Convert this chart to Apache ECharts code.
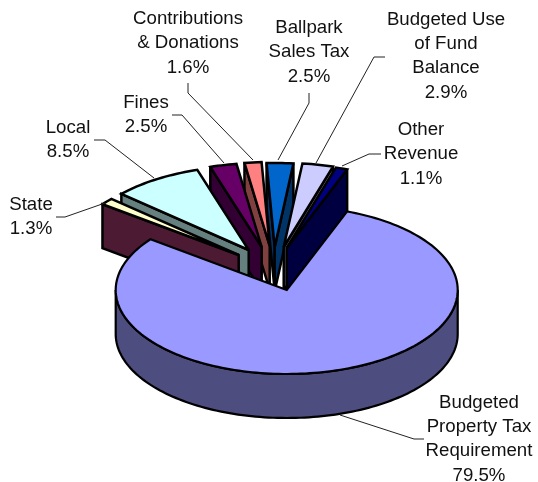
<!DOCTYPE html>
<html>
<head>
<meta charset="utf-8">
<style>html,body{margin:0;padding:0;background:#fff}#c{width:538px;height:482px}</style>
<script src="https://cdn.jsdelivr.net/npm/echarts@6/dist/echarts.min.js"></script>
</head>
<body>
<div id="c"></div>
<script>
// ---- data ----
const categories = [
  'Budgeted\nProperty Tax\nRequirement', 'State', 'Local', 'Fines',
  'Contributions\n& Donations', 'Ballpark\nSales Tax',
  'Budgeted Use\nof Fund\nBalance', 'Other\nRevenue'
];
const values = [79.5, 1.3, 8.5, 2.5, 1.6, 2.5, 2.9, 1.1];

// ---- styles and layout ----
const topColors  = ['#9999FF', '#FFFFCC', '#CCFFFF', '#660066', '#FF8080', '#0066CC', '#CCCCFF', '#000080'];
const sideColors = ['#4D4D80', '#4D1A33', '#668080', '#330033', '#804040', '#003366', '#666680', '#000040'];
const explodeOffsets = [[0, 0], [-48, -35], [-38, -40], [-25, -43], [-17, -44], [-12, -43], [-3, -43], [0, -42]];
const paintOrder = [5, 4, 3, 2, 1, 6, 7, 0];
const strokeWidths = [2.2, 2.5, 2.5, 2.5, 2.5, 2.5, 2.5, 2.5];
const labelAnchors = [[479, 439], [31, 217], [68, 140], [146, 115], [188, 43], [309, 52], [446, 56], [421, 154]];
const leaders = [
  [[340, 415], [414, 439], [424, 439]],
  [[56, 217], [65, 217], [105, 203]],
  [[94, 140], [105, 140], [154, 178]],
  [[172, 115], [182, 115], [224, 163]],
  [[188, 83], [188, 93], [253, 160]],
  [[309, 93], [309, 103], [278, 160]],
  [[385, 57], [374, 57], [316, 163]],
  [[381, 154], [369, 154], [342, 166]]
];
const centre = [286.7, 290], rx = 171, ry = 84, depth = 44, startAngle = 20.7;
const total = values.reduce((a, b) => a + b, 0);
const starts = [];
values.reduce((acc, v, i) => { starts[i] = acc; return acc + v / total * 360; }, startAngle);

const rad = d => d * Math.PI / 180;
function rimPoint(apex, a, dy) {
  return [apex[0] + rx * Math.sin(rad(a)), apex[1] - ry * Math.cos(rad(a)) + (dy || 0)];
}
function arc(apex, a0, a1, dy) {
  const n = Math.max(2, Math.ceil((a1 - a0) / 1.5)), pts = [];
  for (let i = 0; i <= n; i++) pts.push(rimPoint(apex, a0 + (a1 - a0) * i / n, dy));
  return pts;
}
function poly(points, fill, z2, lineWidth) {
  return {
    type: 'polygon', z2, silent: true, shape: { points },
    style: { fill, stroke: '#000', lineWidth, lineJoin: 'miter', miterLimit: 3 }
  };
}

function renderItem(params, api) {
  const i = params.dataIndex;
  const share = api.value(0) / total * 360;
  const a0 = starts[i], a1 = a0 + share;
  const off = explodeOffsets[i];
  const apex = [centre[0] + off[0], centre[1] + off[1]];
  const base = paintOrder.indexOf(i) * 10 + 1;
  const w = strokeWidths[i];
  const kids = [];
  // cut faces, only those that turn towards the viewer
  [[a0, Math.sin(rad(a0)) < 0], [a1, Math.sin(rad(a1)) > 0]].forEach(([a, visible]) => {
    if (!visible) return;
    const r = rimPoint(apex, a);
    kids.push(poly([apex, r, [r[0], r[1] + depth], [apex[0], apex[1] + depth]], sideColors[i], base, w));
  });
  // outer wall on the front half
  const f0 = Math.max(a0, 90), f1 = Math.min(a1, 270);
  if (f1 > f0) {
    kids.push(poly(arc(apex, f0, f1, 0).concat(arc(apex, f0, f1, depth).reverse()), sideColors[i], base + 1, w));
  }
  // top face
  kids.push(poly([apex].concat(arc(apex, a0, a1, 0)), topColors[i], base + 2, w));
  // leader and label
  kids.push({
    type: 'polyline', z2: 200, silent: true, shape: { points: leaders[i] },
    style: { stroke: '#222', lineWidth: 1, fill: null }
  });
  kids.push({
    type: 'text', z2: 201, silent: true,
    style: {
      text: categories[i] + '\n' + api.value(0).toFixed(1) + '%',
      x: labelAnchors[i][0], y: labelAnchors[i][1], align: 'center', verticalAlign: 'middle',
      fontFamily: '"Liberation Sans", Arial, sans-serif', fontSize: 18.67, lineHeight: 24.4, fill: '#111'
    }
  });
  return { type: 'group', children: kids };
}

const chart = echarts.init(document.getElementById('c'), null, { renderer: 'canvas' });
chart.setOption({
  animation: false,
  backgroundColor: '#fff',
  series: [{
    type: 'custom',
    coordinateSystem: 'none',
    renderItem,
    silent: true,
    data: values.map(v => [v])
  }]
});
</script>
</body>
</html>
